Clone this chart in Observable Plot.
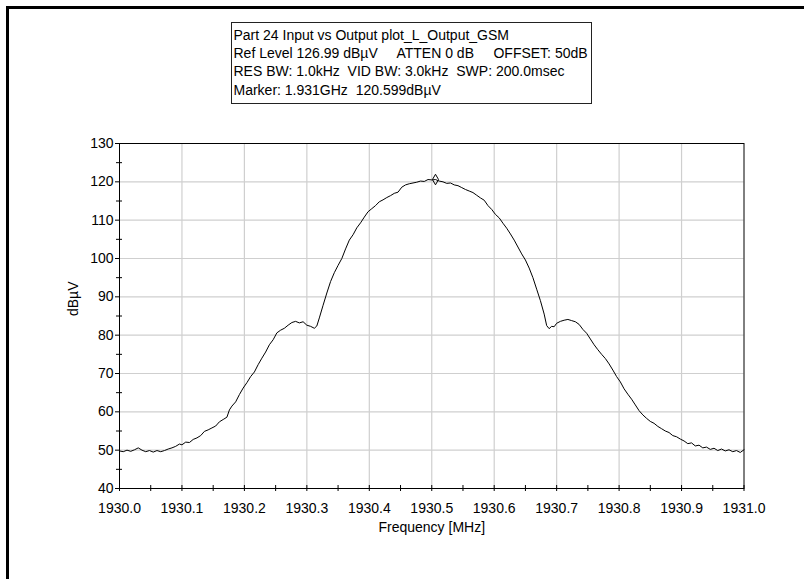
<!DOCTYPE html>
<html>
<head>
<meta charset="utf-8">
<script src="https://cdn.jsdelivr.net/npm/d3@7"></script>
<script src="https://cdn.jsdelivr.net/npm/@observablehq/plot@0.6"></script>
<style>
  html, body { margin: 0; padding: 0; background: #ffffff; overflow: hidden; }
  body { width: 804px; height: 579px; position: relative; font-family: "Liberation Sans", Arial, sans-serif; }
  #outer { position: absolute; left: 6px; top: 6px; width: 900px; height: 700px; border-left: 3px solid #000; border-top: 3px solid #000; box-sizing: border-box; }
  #chart { position: absolute; left: 0; top: 0; }
  #info { position: absolute; left: 231px; top: 22px; width: 359px; height: 80px; border: 1px solid #222; background: #fff; }
  #info div { position: absolute; left: 1.5px; white-space: pre; font-size: 14px; line-height: 14px; color: #000; }
</style>
</head>
<body>
<div id="outer"></div>
<div id="chart"></div>
<div id="info"></div>
<script>
// ---- data ----
const infoLines = [
  "Part 24 Input vs Output plot_L_Output_GSM",
  "Ref Level 126.99 dBµV     ATTEN 0 dB     OFFSET: 50dB",
  "RES BW: 1.0kHz  VID BW: 3.0kHz  SWP: 200.0msec",
  "Marker: 1.931GHz  120.599dBµV"
];
const xTickValues = [1930.0, 1930.1, 1930.2, 1930.3, 1930.4, 1930.5, 1930.6, 1930.7, 1930.8, 1930.9, 1931.0];
const xMinorTicks = [1930.05, 1930.15, 1930.25, 1930.35, 1930.45, 1930.55, 1930.65, 1930.75, 1930.85, 1930.95];
const yTickValues = [40, 50, 60, 70, 80, 90, 100, 110, 120, 130];
const yMinorTicks = [45, 55, 65, 75, 85, 95, 105, 115, 125];
const xLabel = "Frequency [MHz]";
const yLabel = "dBµV";
const markerPoint = [{f: 1930.506, v: 120.599}];

const freqMHz = [
  1930.000, 1930.006, 1930.012, 1930.018, 1930.024, 1930.030, 1930.036, 1930.042, 1930.048, 1930.054,
  1930.060, 1930.066, 1930.072, 1930.078, 1930.084, 1930.090, 1930.096, 1930.100, 1930.106, 1930.112,
  1930.118, 1930.124, 1930.130, 1930.136, 1930.142, 1930.148, 1930.154, 1930.160, 1930.166, 1930.172,
  1930.176, 1930.180, 1930.186, 1930.192, 1930.198, 1930.204, 1930.210, 1930.216, 1930.222, 1930.228,
  1930.234, 1930.240, 1930.246, 1930.252, 1930.258, 1930.264, 1930.270, 1930.276, 1930.282, 1930.288,
  1930.294, 1930.300, 1930.306, 1930.312, 1930.316, 1930.320, 1930.326, 1930.332, 1930.338, 1930.344,
  1930.350, 1930.356, 1930.362, 1930.368, 1930.374, 1930.380, 1930.386, 1930.392, 1930.398, 1930.404,
  1930.410, 1930.416, 1930.422, 1930.428, 1930.434, 1930.440, 1930.446, 1930.452, 1930.458, 1930.464,
  1930.470, 1930.476, 1930.482, 1930.488, 1930.494, 1930.500, 1930.506, 1930.512, 1930.518, 1930.524,
  1930.530, 1930.536, 1930.542, 1930.548, 1930.554, 1930.560, 1930.566, 1930.572, 1930.578, 1930.584,
  1930.590, 1930.596, 1930.602, 1930.608, 1930.614, 1930.620, 1930.626, 1930.632, 1930.638, 1930.644,
  1930.650, 1930.656, 1930.662, 1930.668, 1930.674, 1930.680, 1930.684, 1930.688, 1930.692, 1930.696,
  1930.700, 1930.706, 1930.712, 1930.718, 1930.724, 1930.730, 1930.736, 1930.742, 1930.748, 1930.754,
  1930.760, 1930.766, 1930.772, 1930.778, 1930.784, 1930.790, 1930.796, 1930.802, 1930.808, 1930.814,
  1930.820, 1930.826, 1930.832, 1930.838, 1930.844, 1930.850, 1930.856, 1930.862, 1930.868, 1930.874,
  1930.880, 1930.886, 1930.892, 1930.898, 1930.904, 1930.910, 1930.916, 1930.922, 1930.928, 1930.934,
  1930.940, 1930.946, 1930.952, 1930.958, 1930.964, 1930.970, 1930.976, 1930.982, 1930.988, 1930.994,
  1931.000
];
const levelDbuV = [
  49.8, 49.6, 50.0, 49.7, 50.1, 50.6, 50.0, 49.6, 49.9, 49.5,
  49.9, 49.6, 49.9, 50.3, 50.6, 51.0, 51.6, 51.4, 52.1, 52.0,
  52.8, 53.2, 53.8, 54.9, 55.3, 55.8, 56.3, 57.4, 58.0, 58.6,
  60.5, 61.5, 62.6, 64.5, 66.2, 67.6, 69.2, 70.4, 72.3, 74.0,
  75.6, 77.5, 78.8, 80.6, 81.3, 81.8, 82.6, 83.3, 83.6, 83.2,
  83.5, 82.6, 82.3, 81.8, 82.4, 84.5, 87.8, 91.0, 94.0, 96.3,
  98.2, 100.0, 102.5, 104.8, 106.2, 108.0, 109.3, 110.8, 112.2, 113.0,
  113.8, 114.8, 115.3, 115.9, 116.4, 117.0, 117.3, 118.6, 119.2, 119.5,
  119.7, 119.9, 120.2, 120.1, 120.6, 120.5, 120.6, 120.2, 120.0, 119.6,
  119.7, 119.2, 119.0, 118.5, 118.0, 117.6, 117.2, 116.5, 115.8, 115.2,
  113.8, 112.8, 111.5, 110.6, 109.2, 107.9, 106.4, 104.8, 103.0, 101.2,
  99.6, 97.5, 95.0, 92.0, 89.0, 85.5, 82.5, 81.7, 82.3, 82.2,
  83.1, 83.6, 83.9, 84.1, 83.8, 83.5, 82.8, 81.5, 80.5, 79.0,
  77.5, 76.2, 75.0, 73.9, 72.5, 70.9, 69.2, 67.8, 66.0, 64.6,
  63.3, 61.8, 60.3, 59.2, 58.3, 57.5, 57.0, 56.2, 55.6, 55.0,
  54.6, 53.8, 53.5, 52.9, 52.4, 51.7, 51.9, 51.1, 51.3, 50.6,
  50.8, 50.2, 50.5, 49.9, 50.3, 49.8, 50.1, 49.6, 49.9, 49.4,
  50.1
];

// ---- info box ----
const info = document.getElementById("info");
const lineTops = [4.5, 22.8, 41.3, 59.8];
infoLines.forEach((t, i) => {
  const d = document.createElement("div");
  d.textContent = t;
  d.style.top = lineTops[i] + "px";
  info.appendChild(d);
});

// ---- chart ----
const trace = freqMHz.map((f, i) => ({f, v: levelDbuV[i]}));
const gridColor = "#cfcfcf";

const chart = Plot.plot({
  width: 804,
  height: 579,
  marginLeft: 119,
  marginRight: 60.5,
  marginTop: 143,
  marginBottom: 91,
  x: {domain: [1930.0, 1931.0]},
  y: {domain: [40, 130]},
  style: {fontFamily: "'Liberation Sans', Arial, sans-serif", fontSize: "14px", color: "#000", background: "transparent", overflow: "visible"},
  marks: [
    Plot.ruleX(xTickValues.slice(1, -1), {x: d => d, stroke: gridColor, strokeWidth: 1.2}),
    Plot.ruleY(yTickValues.slice(1, -1), {y: d => d, stroke: gridColor, strokeWidth: 1.2}),
    Plot.frame({stroke: "#000", strokeWidth: 1}),
    Plot.line(trace, {x: "f", y: "v", stroke: "#000", strokeWidth: 1}),
    Plot.dot(markerPoint, {x: "f", y: "v", symbol: "diamond", r: 3.2, stroke: "#000", fill: "none", strokeWidth: 1}),
    Plot.ruleX(xTickValues.concat(xMinorTicks), {x: d => d, y1: 40, y2: 40, insetTop: -3, insetBottom: -3, stroke: "#000"}),
    Plot.ruleY(yMinorTicks, {y: d => d, x1: 1930.0, x2: 1930.0, insetLeft: -3, insetRight: -3, stroke: "#000"}),
    Plot.ruleY(yTickValues, {y: d => d, x1: 1930.0, x2: 1930.0, insetLeft: -4, insetRight: 0, stroke: "#000"}),
    Plot.axisX(xTickValues, {tickSize: 0, tickPadding: 15, tickFormat: d => d.toFixed(1), label: null, fontSize: 14}),
    Plot.axisY(yTickValues, {tickSize: 0, tickPadding: 6, label: null, fontSize: 14}),
    Plot.text([yLabel], {text: d => d, frameAnchor: "left", dx: -46, rotate: -90, fontSize: 14}),
    Plot.text([xLabel], {text: d => d, frameAnchor: "bottom", dy: 43, fontSize: 14})
  ]
});
document.getElementById("chart").appendChild(chart);
</script>
</body>
</html>
